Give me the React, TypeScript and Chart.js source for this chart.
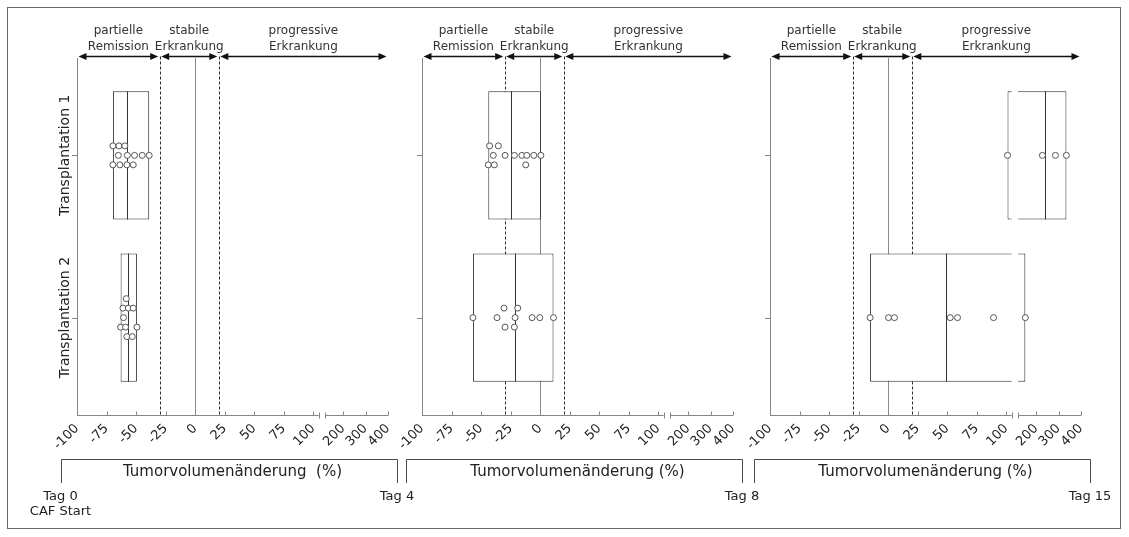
import React, { useEffect, useRef } from "react";
import { Chart, registerables } from "chart.js";

Chart.register(...registerables);

const FONT = "'DejaVu Sans', Verdana, sans-serif";

// ---------- data ----------
const categories = ["Transplantation 1", "Transplantation 2"];
const categoryPositions = [1, 2];
const dayLabels = ["Tag 0", "Tag 4", "Tag 8", "Tag 15"];
const startNote = "CAF Start";
const axisTitles = [
  "Tumorvolumenänderung  (%)",
  "Tumorvolumenänderung (%)",
  "Tumorvolumenänderung (%)",
];
const zoneLabels = [
  ["partielle", "Remission"],
  ["stabile", "Erkrankung"],
  ["progressive", "Erkrankung"],
];
const zoneBounds = [-100, -30, 20, 400];
const tickValues = [-100, -75, -50, -25, 0, 25, 50, 75, 100, 200, 300, 400];

// Tag 0 -> Tag 4
const day4T1 = [-69.6, -64.5, -59.5, -65, -57.4, -51.3, -44.8, -38.9, -69.6, -63.7, -57.8, -52.4];
const day4T1Lanes = [-1, -1, -1, 0, 0, 0, 0, 0, 1, 1, 1, 1];
const day4T2 = [-58.3, -61.1, -56.6, -52.4, -60.6, -63.1, -58.9, -49.3, -57.8, -53.2];
const day4T2Lanes = [-2, -1, -1, -1, 0, 1, 1, 1, 2, 2];
// Tag 4 -> Tag 8
const day8T1 = [-42.8, -35.4, -39.7, -29.7, -21.8, -15.5, -11.3, -5.4, 0.6, -43.9, -38.8, -12.2];
const day8T1Lanes = [-1, -1, 0, 0, 0, 0, 0, 0, 0, 1, 1, 1];
const day8T2 = [-30.6, -19, -56.9, -36.5, -21.2, -6.8, -0.3, 11.3, -29.7, -21.8];
const day8T2Lanes = [-1, -1, 0, 0, 0, 0, 0, 0, 1, 1];
// Tag 8 -> Tag 15
const day15T1 = [101, 228, 286, 335];
const day15T1Lanes = [0, 0, 0, 0];
const day15T2 = [-15.3, 0.3, 5.3, 52.5, 58.7, 89.2, 152];
const day15T2Lanes = [0, 0, 0, 0, 0, 0, 0];

const panelSeries = [
  [day4T1, day4T2],
  [day8T1, day8T2],
  [day15T1, day15T2],
];
const panelLanes = [
  [day4T1Lanes, day4T2Lanes],
  [day8T1Lanes, day8T2Lanes],
  [day15T1Lanes, day15T2Lanes],
];

// ---------- layout ----------
const W = 1129;
const H = 537;
const PANEL_LEFTS = [77, 422, 770];
const PLOT_WIDTH = 311;
const PLOT_TOP = 58;
const PLOT_BOTTOM = 415;
const X_AXIS_H = 40;
const LANE_STEP = 0.0585;
const ARROW_Y = 56.5;

// broken axis: linear up to ~105, compressed above 120
const BREAK_LOW = 104.5;
const BREAK_VALUE_HIGH = 120;
const BREAK_DISPLAY_HIGH = 110;
const UPPER_RATE = 0.19;

function disp(v: number): number {
  if (v <= BREAK_LOW) return v;
  if (v >= BREAK_VALUE_HIGH) return BREAK_DISPLAY_HIGH + (v - BREAK_VALUE_HIGH) * UPPER_RATE;
  return BREAK_LOW + ((v - BREAK_LOW) / (BREAK_VALUE_HIGH - BREAK_LOW)) * (BREAK_DISPLAY_HIGH - BREAK_LOW);
}

const crisp = (v: number) => Math.round(v) + 0.5;

function seg(ctx: CanvasRenderingContext2D, x1: number, y1: number, x2: number, y2: number) {
  ctx.beginPath();
  ctx.moveTo(x1, y1);
  ctx.lineTo(x2, y2);
  ctx.stroke();
}

function arrowHead(ctx: CanvasRenderingContext2D, tipX: number, y: number, dir: number) {
  ctx.beginPath();
  ctx.moveTo(tipX, y);
  ctx.lineTo(tipX - dir * 8, y - 3.5);
  ctx.lineTo(tipX - dir * 8, y + 3.5);
  ctx.closePath();
  ctx.fill();
}

function makeDecor(pi: number) {
  const series = panelSeries[pi];
  return {
    id: "decor" + pi,
    beforeDatasetsDraw(chart: any) {
      const { ctx, chartArea: a } = chart;
      const xs = chart.scales.x;
      const px = (v: number) => xs.getPixelForValue(disp(v));
      ctx.save();
      ctx.lineWidth = 1;
      ctx.strokeStyle = "#8a8a8a";
      const x0 = crisp(px(0));
      seg(ctx, x0, a.top, x0, a.bottom);
      ctx.strokeStyle = "#2a2a2a";
      ctx.setLineDash([3, 2]);
      [zoneBounds[1], zoneBounds[2]].forEach((b) => {
        const xb = crisp(px(b));
        seg(ctx, xb, ARROW_Y, xb, a.bottom);
      });
      ctx.restore();
    },
    afterDatasetDraw(chart: any, args: any) {
      if (args.index !== 0) return;
      const { ctx, chartArea: a } = chart;
      const xs = chart.scales.x;
      ctx.save();
      const g1 = xs.getPixelForValue(BREAK_LOW);
      const g2 = xs.getPixelForValue(BREAK_DISPLAY_HIGH);
      ctx.fillStyle = "#ffffff";
      ctx.fillRect(g1, a.top, g2 - g1, a.bottom - a.top);
      ctx.strokeStyle = "#333333";
      ctx.lineWidth = 1;
      args.meta.data.forEach((el: any, c: number) => {
        const { y, height } = el.getProps(["y", "height"], true);
        const vals = series[c];
        const m = vals.reduce((s, v) => s + v, 0) / vals.length;
        const xm = crisp(xs.getPixelForValue(disp(m)));
        seg(ctx, xm, y - height / 2, xm, y + height / 2);
      });
      ctx.restore();
    },
    afterDraw(chart: any) {
      const { ctx, chartArea: a } = chart;
      const xs = chart.scales.x;
      const ys = chart.scales.y;
      const px = (v: number) => xs.getPixelForValue(disp(v));
      ctx.save();
      ctx.lineWidth = 1;
      ctx.strokeStyle = "#858585";
      // y axis
      const xl = crisp(a.left);
      seg(ctx, xl, a.top, xl, a.bottom + 0.5);
      categoryPositions.forEach((c) => {
        const yc = crisp(ys.getPixelForValue(c));
        seg(ctx, a.left - 5, yc, a.left, yc);
      });
      // x axis with break
      const yb = crisp(a.bottom);
      const g1 = xs.getPixelForValue(BREAK_LOW);
      const g2 = xs.getPixelForValue(BREAK_DISPLAY_HIGH);
      seg(ctx, a.left, yb, g1, yb);
      seg(ctx, g2, yb, a.right, yb);
      tickValues.forEach((t) => {
        const xt = crisp(px(t));
        seg(ctx, xt, yb - 4, xt, yb);
      });
      seg(ctx, crisp(g1), yb - 3, crisp(g1), yb + 3);
      seg(ctx, crisp(g2), yb - 3, crisp(g2), yb + 3);

      // zone arrows
      ctx.strokeStyle = "#111";
      ctx.fillStyle = "#111";
      ctx.lineWidth = 1.5;
      for (let z = 0; z < 3; z++) {
        const x1 = px(zoneBounds[z]) + 1.5;
        const x2 = px(zoneBounds[z + 1]) - 1.5;
        seg(ctx, x1 + 4, ARROW_Y, x2 - 4, ARROW_Y);
        arrowHead(ctx, x1, ARROW_Y, -1);
        arrowHead(ctx, x2, ARROW_Y, 1);
      }
      // zone labels
      ctx.fillStyle = "#333";
      ctx.font = `12px ${FONT}`;
      ctx.textAlign = "center";
      ctx.textBaseline = "middle";
      for (let z = 0; z < 3; z++) {
        const xc = (px(zoneBounds[z]) + px(zoneBounds[z + 1])) / 2;
        ctx.fillText(zoneLabels[z][0], xc, 31);
        ctx.fillText(zoneLabels[z][1], xc, 46.5);
      }

      // category labels (first panel only)
      if (pi === 0) {
        ctx.fillStyle = "#222";
        ctx.font = `14px ${FONT}`;
        ctx.textBaseline = "alphabetic";
        categoryPositions.forEach((c, i) => {
          ctx.save();
          ctx.translate(a.left - 8.5, ys.getPixelForValue(c));
          ctx.rotate(-Math.PI / 2);
          ctx.fillText(categories[i], 0, 0);
          ctx.restore();
        });
      }

      // bottom bracket + title
      const L = a.left - 16.5;
      const R = a.right + 9;
      ctx.strokeStyle = "#4a4a4a";
      ctx.lineWidth = 1;
      ctx.beginPath();
      ctx.moveTo(crisp(L), 483);
      ctx.lineTo(crisp(L), 459.5);
      ctx.lineTo(crisp(R), 459.5);
      ctx.lineTo(crisp(R), 483);
      ctx.stroke();
      ctx.fillStyle = "#222";
      ctx.font = `15px ${FONT}`;
      ctx.textAlign = "center";
      ctx.textBaseline = "middle";
      ctx.fillText(axisTitles[pi], (a.left + a.right) / 2, 472);
      ctx.font = `13px ${FONT}`;
      if (pi === 0) {
        ctx.fillText(dayLabels[0], L, 497);
        ctx.fillText(startNote, L, 512);
        // figure frame
        ctx.strokeStyle = "#666";
        ctx.strokeRect(7.5, 7.5, W - 16, H - 16);
      }
      ctx.fillText(dayLabels[pi + 1], R, 497);
      ctx.restore();
    },
  };
}

function buildConfig(pi: number): any {
  const series = panelSeries[pi];
  const lanes = panelLanes[pi];
  return {
    type: "bar",
    data: {
      datasets: [
        {
          type: "bar",
          indexAxis: "y",
          data: series.map((vals, c) => ({
            y: categoryPositions[c],
            x: [disp(Math.min(...vals)), disp(Math.max(...vals))],
          })),
          backgroundColor: "#ffffff",
          borderColor: "#2e2e2e",
          borderWidth: 1,
          borderSkipped: false,
          categoryPercentage: 0.79,
          barPercentage: 1,
          order: 2,
        },
        ...series.map((vals, c) => ({
          type: "scatter",
          data: vals.map((v, i) => ({
            x: disp(v),
            y: categoryPositions[c] + lanes[c][i] * LANE_STEP,
          })),
          pointRadius: 3,
          pointBackgroundColor: "#ffffff",
          pointBorderColor: "#555555",
          pointBorderWidth: 1,
          showLine: false,
          order: 1,
        })),
      ],
    },
    options: {
      responsive: false,
      animation: false,
      events: [],
      layout: {
        padding: {
          left: PANEL_LEFTS[pi],
          right: W - PANEL_LEFTS[pi] - PLOT_WIDTH,
          top: PLOT_TOP,
          bottom: H - PLOT_BOTTOM - X_AXIS_H,
        },
      },
      plugins: {
        legend: { display: false },
        tooltip: { enabled: false },
        title: { display: false },
      },
      scales: {
        x: {
          type: "linear",
          min: -100,
          max: disp(400),
          offset: false,
          beginAtZero: false,
          grid: { display: false, drawTicks: false },
          border: { display: false },
          afterBuildTicks: (s: any) => {
            s.ticks = tickValues.map((v) => ({ value: disp(v) }));
          },
          afterFit: (s: any) => {
            s.height = X_AXIS_H;
          },
          ticks: {
            autoSkip: false,
            minRotation: 45,
            maxRotation: 45,
            padding: 6,
            color: "#222",
            font: { family: FONT, size: 13 },
            callback: (_v: any, i: number) => String(tickValues[i]),
          },
        },
        y: {
          type: "linear",
          display: false,
          min: 0.4,
          max: 2.6,
          reverse: true,
          offset: false,
          beginAtZero: false,
          afterBuildTicks: (s: any) => {
            s.ticks = categoryPositions.map((v) => ({ value: v }));
          },
        },
      },
    },
    plugins: [makeDecor(pi)],
  };
}

export default function App() {
  const r0 = useRef<HTMLCanvasElement>(null);
  const r1 = useRef<HTMLCanvasElement>(null);
  const r2 = useRef<HTMLCanvasElement>(null);
  useEffect(() => {
    const refs = [r0, r1, r2];
    const charts = refs.map((r, pi) => new Chart(r.current as HTMLCanvasElement, buildConfig(pi)));
    return () => charts.forEach((c) => c.destroy());
  }, []);
  const cs: React.CSSProperties = { position: "absolute", left: 0, top: 0, width: W, height: H };
  return (
    <div style={{ position: "absolute", left: 0, top: 0, width: W, height: H, background: "#fff", overflow: "hidden" }}>
      <canvas ref={r0} width={W} height={H} style={cs} />
      <canvas ref={r1} width={W} height={H} style={cs} />
      <canvas ref={r2} width={W} height={H} style={cs} />
    </div>
  );
}
